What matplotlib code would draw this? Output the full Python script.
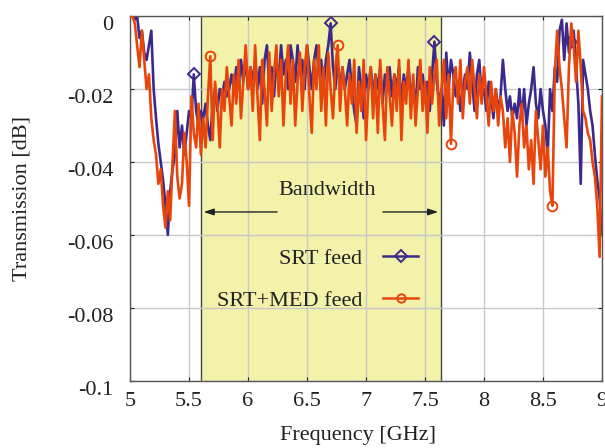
import numpy as np
import matplotlib
matplotlib.use("Agg")
import matplotlib.pyplot as plt
import matplotlib.transforms as mtransforms
from matplotlib.lines import Line2D

plt.rcParams["font.family"] = ["Liberation Serif", "DejaVu Serif"]
plt.rcParams["axes.unicode_minus"] = False

# transmission in units of 0.001 dB, sampled every 0.02 GHz from 5.00 to 9.00
srt_mdb = [
    0, 0, -1, 0, -6, -4, -10, -12, -8, -4,            # 5.00
    -20, -28, -35, -40, -45, -52, -60, -48, -42, -38,  # 5.20
    -26, -36, -30, -38, -32, -26, -28, -16, -26, -30,  # 5.40
    -26, -28, -24, -30, -34, -24, -20, -26, -20, -22,  # 5.60
    -18, -22, -20, -16, -20, -14, -20, -12, -18, -12,  # 5.80
    -20, -14, -18, -12, -20, -14, -24, -12, -8, -20,   # 6.00
    -14, -22, -12, -18, -8, -16, -12, -20, -8, -12,    # 6.20
    -18, -8, -16, -12, -20, -8, -14, -20, -12, -8,     # 6.40
    -16, -12, -20, -12, -8, -2, -14, -20, -12, -20,    # 6.60
    -14, -20, -16, -12, -20, -26, -30, -14, -20, -28,  # 6.80
    -16, -20, -14, -22, -16, -20, -14, -24, -16, -20,  # 7.00
    -14, -22, -16, -20, -14, -24, -16, -20, -14, -22,  # 7.20
    -18, -26, -14, -20, -16, -22, -18, -26, -16, -7,   # 7.40
    -18, -24, -20, -30, -10, -20, -12, -16, -22, -18,  # 7.60
    -26, -20, -16, -20, -10, -18, -26, -16, -12, -22,  # 7.80
    -20, -26, -18, -22, -28, -20, -26, -22, -12, -20,  # 8.00
    -26, -22, -28, -24, -28, -20, -28, -20, -30, -24,  # 8.20
    -20, -14, -24, -28, -20, -26, -30, -38, -20, -26,  # 8.40
    -14, -18, -4, -1, -12, -2, -10, -7, -4, -14,       # 8.60
    -24, -46, -12, -16, -20, -26, -30, -38, -45, -50,  # 8.80
    -60,                                               # 9.00
]
srt_med_mdb = [
    0, 0, -2, -8, -14, -4, -12, -20, -16, -28,        # 5.00
    -34, -38, -46, -42, -52, -58, -48, -56, -40, -26,  # 5.20
    -44, -50, -46, -32, -40, -52, -22, -32, -36, -24,  # 5.40
    -38, -28, -36, -22, -11, -34, -18, -24, -36, -20,  # 5.60
    -26, -14, -22, -30, -16, -24, -12, -28, -18, -8,   # 5.80
    -20, -14, -26, -8, -22, -34, -12, -20, -30, -10,   # 6.00
    -26, -16, -8, -22, -12, -30, -16, -8, -24, -12,    # 6.20
    -30, -18, -10, -26, -14, -8, -22, -32, -12, -20,   # 6.40
    -8, -26, -14, -30, -10, -20, -28, -14, -8, -26,    # 6.60
    -14, -20, -30, -16, -24, -12, -32, -18, -26, -12,  # 6.80
    -34, -20, -14, -28, -16, -32, -12, -24, -34, -14,  # 7.00
    -22, -30, -16, -26, -12, -34, -18, -24, -12, -28,  # 7.20
    -16, -30, -20, -12, -26, -18, -32, -14, -24, -16,  # 7.40
    -12, -30, -20, -12, -28, -16, -35, -18, -14, -24,  # 7.60
    -12, -28, -18, -14, -24, -12, -20, -28, -16, -24,  # 7.80
    -14, -22, -30, -18, -26, -20, -30, -22, -26, -36,  # 8.00
    -28, -40, -26, -32, -44, -30, -24, -36, -30, -42,  # 8.20
    -34, -46, -26, -34, -42, -30, -44, -36, -48, -52,  # 8.40
    -16, -4, -14, -20, -28, -36, -14, -2, -8, -18,     # 8.60
    -4, -14, -26, -28, -32, -34, -40, -44, -52, -66,   # 8.80
    -22,                                               # 9.00
]
assert len(srt_mdb) == 201 and len(srt_med_mdb) == 201

freq = np.round(np.linspace(5.0, 9.0, 201), 2)
srt = np.array(srt_mdb) * 1e-3
srt_med = np.array(srt_med_mdb) * 1e-3

srt_marker_freqs = [5.54, 6.70, 7.58, 8.74]
srt_med_marker_freqs = [5.68, 6.76, 7.72, 8.58]

band = (5.60, 7.635)
x_ticks = [5, 5.5, 6, 6.5, 7, 7.5, 8, 8.5, 9]
x_tick_labels = ["5", "5.5", "6", "6.5", "7", "7.5", "8", "8.5", "9"]
y_ticks = [0, -0.02, -0.04, -0.06, -0.08, -0.1]
y_tick_labels = ["0", "-0.02", "-0.04", "-0.06", "-0.08", "-0.1"]

blue = "#3b2a8c"
orange = "#e8450c"
text_col = "#222222"
fs = 16


def idx_of(freqs):
    return [int(np.argmin(np.abs(freq - f))) for f in freqs]


fig = plt.figure(figsize=(6.05, 4.48), dpi=100)
ax = fig.add_axes([0.215, 0.15, 0.78, 0.814])

ax.axvspan(band[0], band[1], color="#f2f2aa", zorder=0.2, lw=0)
for b in band:
    ax.axvline(b, color="#444444", lw=1.0, zorder=0.3)

ax.plot(freq, srt, color=blue, lw=1.9, marker="D", markersize=6.5,
        markerfacecolor="none", markeredgewidth=1.4,
        markevery=idx_of(srt_marker_freqs), zorder=2)
ax.plot(freq, srt_med, color=orange, lw=1.9, marker="o", markersize=7,
        markerfacecolor="none", markeredgewidth=1.4,
        markevery=idx_of(srt_med_marker_freqs), zorder=3)

ax.text(6.67, -0.0477, "Bandwidth", ha="center", va="center", fontsize=fs, color=text_col)
arrow_kw = dict(arrowstyle="-|>,head_length=0.6,head_width=0.2", color=text_col, lw=1.0)
ax.annotate("", xy=(band[0], -0.0537), xytext=(6.27, -0.0537), arrowprops=arrow_kw)
ax.annotate("", xy=(band[1], -0.0537), xytext=(7.12, -0.0537), arrowprops=arrow_kw)

handles = [
    Line2D([], [], color=blue, lw=1.8, marker="D", markersize=6.5,
           markerfacecolor="none", markeredgewidth=1.4),
    Line2D([], [], color=orange, lw=1.8, marker="o", markersize=6,
           markerfacecolor="none", markeredgewidth=1.4),
]
leg = ax.legend(handles, ["SRT feed", "SRT+MED feed"], loc="center right",
                bbox_to_anchor=(0.61, 0.277), frameon=False, markerfirst=False,
                fontsize=fs, handlelength=1.55, labelspacing=0.95,
                handletextpad=0.95, borderaxespad=0, borderpad=0)
for t in leg.get_texts():
    t.set_color(text_col)

ax.set_xlim(5, 9)
ax.set_ylim(-0.1, 0)
ax.set_xticks(x_ticks)
ax.set_xticklabels(x_tick_labels)
ax.set_yticks(y_ticks)
ax.set_yticklabels(y_tick_labels)
ax.tick_params(direction="in", length=3, labelsize=fs, colors=text_col,
               top=True, right=True, pad=8)
ax.tick_params(axis="y", pad=12)
# y tick labels sit a little below their grid lines in the original
shift = mtransforms.ScaledTranslation(0, -5 / 72, fig.dpi_scale_trans)
for lab in ax.get_yticklabels():
    lab.set_transform(lab.get_transform() + shift)
ax.set_axisbelow(True)
ax.grid(True, color="#c8c8c8", lw=1.0)
for s in ax.spines.values():
    s.set_color("#555555")
    s.set_linewidth(1.0)

ax.set_xlabel("Frequency [GHz]", fontsize=fs, color=text_col)
ax.set_ylabel("Transmission [dB]", fontsize=fs, color=text_col)
ax.xaxis.set_label_coords(0.483, -0.15)
ax.xaxis.label.set_va("center")
ax.yaxis.set_label_coords(-0.23, 0.5)
ax.yaxis.label.set_va("center")

fig.savefig("out.png", dpi=100)
